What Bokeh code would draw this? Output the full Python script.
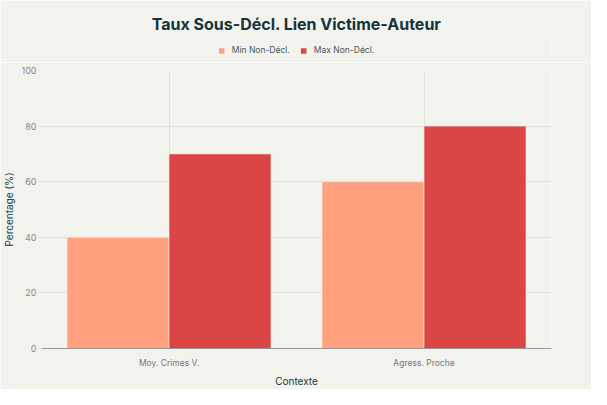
from bokeh.plotting import figure
from bokeh.layouts import column
from bokeh.models import ColumnDataSource, FactorRange, Range1d, Legend, LegendItem, FixedTicker
from bokeh.transform import dodge
from bokeh.embed import file_html
from bokeh.resources import INLINE

categories = ["Moy. Crimes V.", "Agress. Proche"]
min_vals = [40, 60]
max_vals = [70, 80]
series_names = ["Min Non-Décl.", "Max Non-Décl."]
colors = ["#FFA07F", "#DB4545"]
y_ticks = [0, 20, 40, 60, 80, 100]
y_grid = [20, 40, 60, 80]
title_text = "Taux Sous-Décl. Lien Victime-Auteur"

BG = "#F3F3EE"
TXT = "#13343B"
FONT = "Inter"

src = ColumnDataSource(dict(cat=categories, mn=min_vals, mx=max_vals))
xr = FactorRange(*categories, range_padding=0)

# ---- header: title + legend (bars fall outside its y range, only the legend shows) ----
hdr = figure(width=591, height=62, output_backend="svg", toolbar_location=None,
             x_range=xr, y_range=Range1d(1000, 1001),
             x_axis_type=None, y_axis_type=None,
             background_fill_color=BG, border_fill_color=BG, outline_line_color=None,
             min_border_left=39, min_border_right=40, min_border_top=38, min_border_bottom=0,
             title=title_text)
hdr.xgrid.visible = False
hdr.ygrid.visible = False
hdr.title.align = "center"
hdr.title.text_font = FONT
hdr.title.text_font_size = "16px"
hdr.title.text_font_style = "bold"
hdr.title.text_color = TXT

h1 = hdr.vbar(x=dodge("cat", -0.2, range=xr), top="mn", width=0.4, source=src,
              fill_color=colors[0], line_color=None)
h2 = hdr.vbar(x=dodge("cat", 0.2, range=xr), top="mx", width=0.4, source=src,
              fill_color=colors[1], line_color=None)
legend = Legend(items=[LegendItem(label=series_names[0], renderers=[h1]),
                       LegendItem(label=series_names[1], renderers=[h2])],
                orientation="horizontal", location="center",
                background_fill_alpha=0, border_line_color=None,
                label_text_font=FONT, label_text_font_size="8.5px", label_text_color="#4a5558",
                glyph_width=7, glyph_height=7, spacing=10, label_standoff=7,
                margin=0, padding=2)
hdr.add_layout(legend, "center")

# ---- main chart ----
p = figure(width=591, height=327, output_backend="svg", toolbar_location=None,
           x_range=xr, y_range=Range1d(0, 100),
           background_fill_color=BG, border_fill_color=BG, outline_line_color=None,
           min_border_left=39, min_border_right=40, min_border_top=8, min_border_bottom=41)

p.vbar(x=dodge("cat", -0.2, range=xr), top="mn", width=0.4, source=src,
       fill_color=colors[0], line_color=BG, line_width=0.6)
p.vbar(x=dodge("cat", 0.2, range=xr), top="mx", width=0.4, source=src,
       fill_color=colors[1], line_color=BG, line_width=0.6)

p.yaxis.ticker = FixedTicker(ticks=y_ticks)
p.yaxis.axis_line_color = None
p.yaxis.major_tick_in = 0
p.yaxis.major_tick_out = 3
p.yaxis.major_tick_line_color = "#e0e0dc"
p.yaxis.minor_tick_line_color = None
p.yaxis.major_label_standoff = 2
p.yaxis.major_label_text_font = FONT
p.yaxis.major_label_text_font_size = "9px"
p.yaxis.major_label_text_color = "#888888"
p.yaxis.axis_label = "Percentage (%)"
p.yaxis.axis_label_text_font = FONT
p.yaxis.axis_label_text_font_size = "10px"
p.yaxis.axis_label_text_font_style = "normal"
p.yaxis.axis_label_text_color = TXT
p.yaxis.axis_label_standoff = 3

p.xaxis.axis_line_color = "#999999"
p.xaxis.major_tick_line_color = None
p.xaxis.minor_tick_line_color = None
p.xaxis.major_label_standoff = 3
p.xaxis.major_label_text_font = FONT
p.xaxis.major_label_text_font_size = "8.5px"
p.xaxis.major_label_text_color = "#777777"
p.xaxis.axis_label = "Contexte"
p.xaxis.axis_label_text_font = FONT
p.xaxis.axis_label_text_font_size = "10px"
p.xaxis.axis_label_text_font_style = "normal"
p.xaxis.axis_label_text_color = TXT
p.xaxis.axis_label_standoff = 4

p.xgrid.grid_line_color = "#E0E0DC"
p.ygrid.grid_line_color = "#E0E0DC"
p.ygrid.ticker = FixedTicker(ticks=y_grid)

layout = column(hdr, p, spacing=0)
open("out.html", "w").write(file_html(layout, INLINE))
